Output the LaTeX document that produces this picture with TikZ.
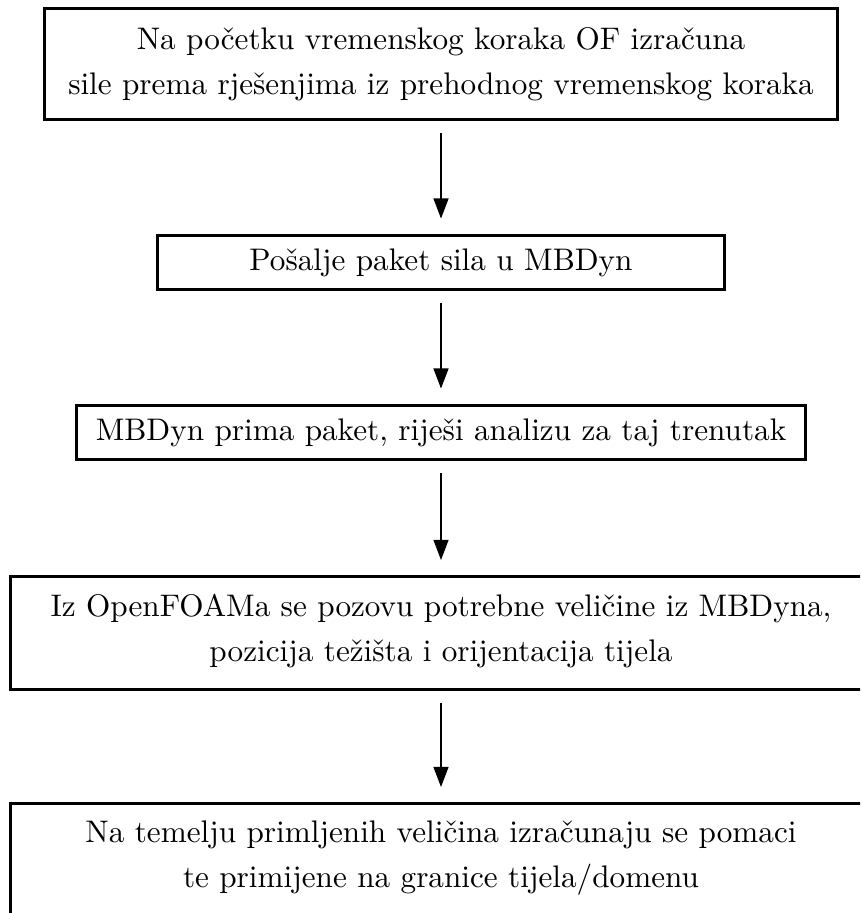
\documentclass[tikz,border=0pt]{standalone}
\usetikzlibrary{arrows.meta}
\begin{document}
\begin{tikzpicture}[x=0.3333pt,y=-0.3333pt,
  flowbox/.style={draw=black,line width=1pt,inner sep=0pt,align=center,
    font={\fontsize{10.4}{15}\selectfont}},
  widebox/.style={draw=black,line width=1pt,inner sep=0pt,anchor=north west},
  flowtext/.style={inner sep=0pt,align=center,font={\fontsize{10.4}{15}\selectfont}},
  flowarrow/.style={line width=0.4pt,-{Triangle[length=6.7pt,width=5pt]},
    shorten <=4pt,shorten >=5pt}]
\useasboundingbox (0,0) rectangle (860,913);
\clip (0,0) rectangle (860,913);
\node[flowbox,minimum width=264.3pt,minimum height=37.3pt] (b1) at (441,64)
  {Na početku vremenskog koraka OF izračuna\\sile prema rješenjima iz prehodnog vremenskog koraka};
\node[flowbox,minimum width=189.3pt,minimum height=18.3pt] (b2) at (441,262.5)
  {Pošalje paket sila u MBDyn};
\node[flowbox,minimum width=242.7pt,minimum height=18.3pt] (b3) at (441,432.5)
  {MBDyn prima paket, riješi analizu za taj trenutak};
\node[widebox,minimum width=330pt,minimum height=37.7pt] (b4) at (9,575) {};
\node[flowtext] (t4) at (441,631.5)
  {Iz OpenFOAMa se pozovu potrebne veličine iz MBDyna,\\pozicija težišta i orijentacija tijela};
\node[widebox,minimum width=330pt,minimum height=38.7pt] (b5) at (9,802) {};
\node[flowtext] (t5) at (441,858)
  {Na temelju primljenih veličina izračunaju se pomaci\\te primijene na granice tijela/domenu};
\draw[flowarrow] (b1.south) -- (b2.north);
\draw[flowarrow] (b2.south) -- (b3.north);
\draw[flowarrow] (b3.south) -- (b3.south |- b4.north);
\draw[flowarrow] (b3.south |- b4.south) -- (b3.south |- b5.north);
\end{tikzpicture}
\end{document}
